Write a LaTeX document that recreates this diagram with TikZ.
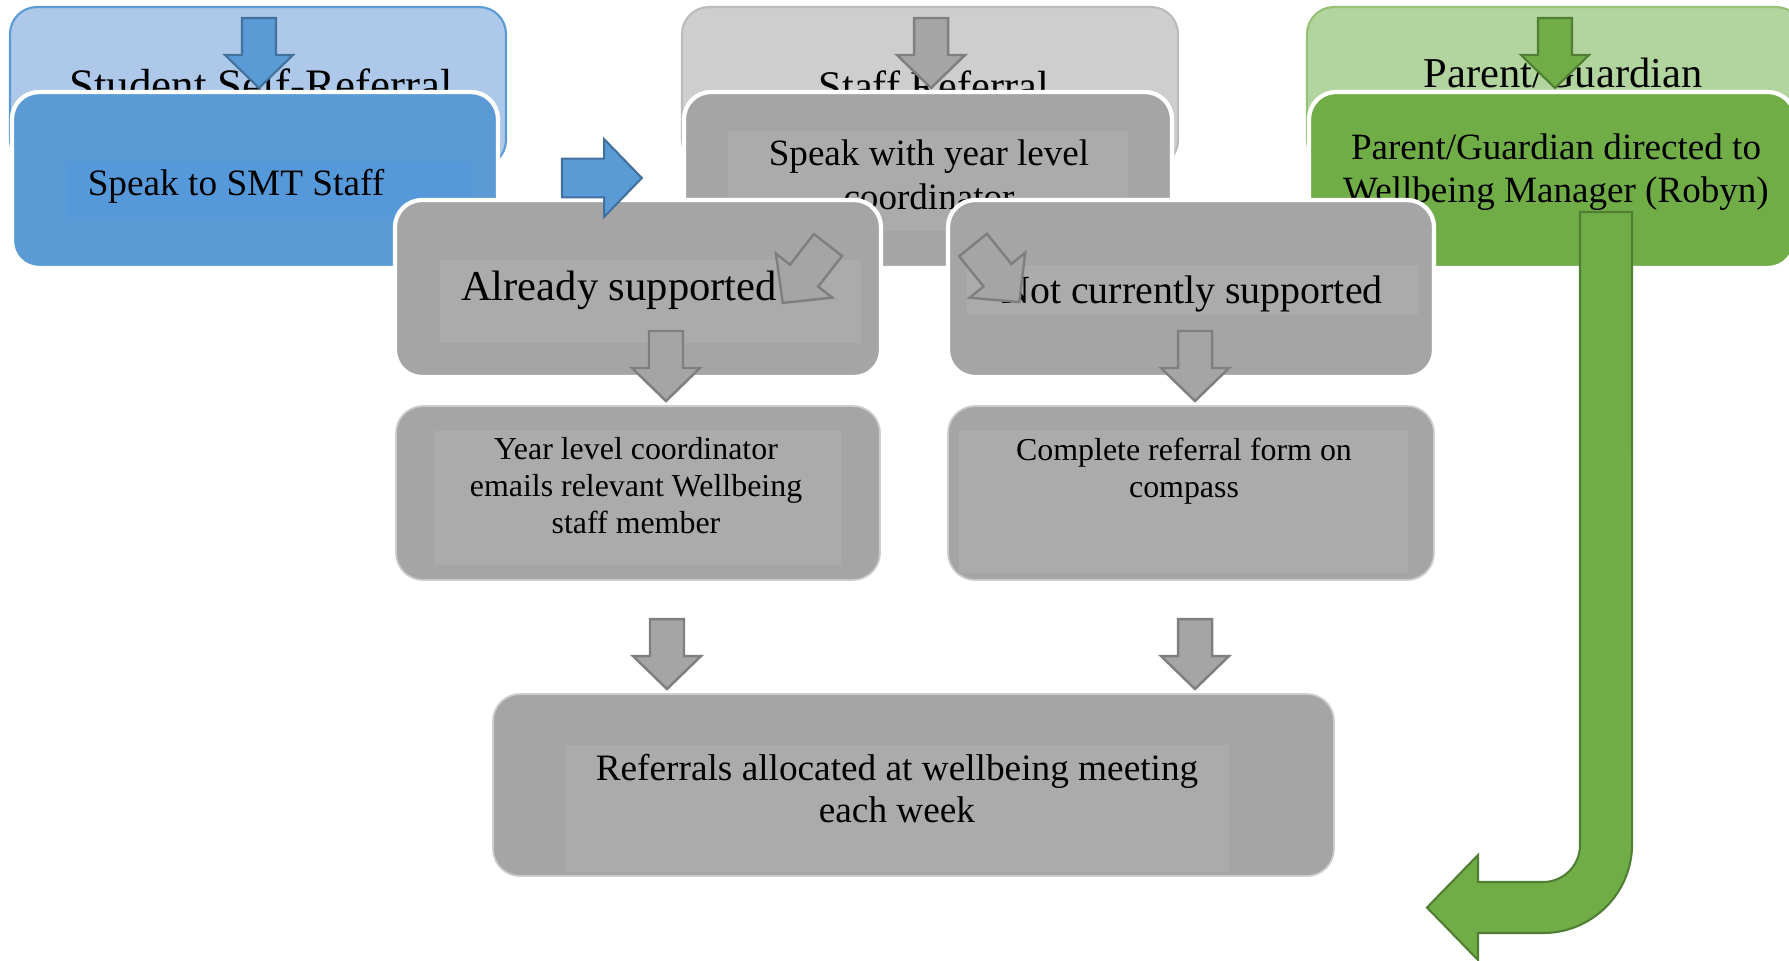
\documentclass[tikz,border=0pt]{standalone}
\usepackage{fontspec}
\setmainfont{Liberation Serif}
\usetikzlibrary{positioning}

\definecolor{azul}{HTML}{5B9BD5}
\definecolor{azulint}{HTML}{5699DA}
\definecolor{azulclaro}{HTML}{ADC8E9}
\definecolor{azulborde}{HTML}{41719C}
\definecolor{gris}{HTML}{A5A5A5}
\definecolor{grisint}{HTML}{ABABAB}
\definecolor{grisclaro}{HTML}{CECECE}
\definecolor{grisborde}{HTML}{7F7F7F}
\definecolor{verde}{HTML}{70AD47}
\definecolor{verdeclaro}{HTML}{B2D49F}
\definecolor{verdeborde}{HTML}{507E32}

\tikzset{
  headbox/.style={rounded corners=0.27cm, line width=0.6pt},
  stepbox/.style={rounded corners=0.27cm, draw=white, line width=1.2pt, fill=gris},
  lowbox/.style={rounded corners=0.27cm, draw=gris!55!white, line width=0.5pt, fill=gris},
  txt/.style={inner sep=0pt, anchor=base, text=black, align=center},
  bluearrow/.style={fill=azul, draw=azulborde, line width=0.6pt},
  grayarrow/.style={fill=gris, draw=grisborde, line width=0.7pt},
  greenarrow/.style={fill=verde, draw=verdeborde, line width=0.6pt}
}
\newcommand{\fs}[2]{\fontsize{#1}{#2}\selectfont}
% flecha de bloque hacia abajo: estilo, origen, giro, escala
\newcommand{\flecha}[4]{
    \draw[#1, shift={(#2)}, rotate=#3, scale=#4]
        (-17,0) -- (17,0) -- (17,37) -- (34,37) -- (0,70) -- (-34,37) -- (-17,37) -- cycle;
}

\begin{document}
\begin{tikzpicture}[x=0.01cm, y=-0.01cm]
    \useasboundingbox (0,0) rectangle (1789,960);
    \clip (0,0) rectangle (1789,960);

    % 1. Recuadros superiores
    \draw[headbox, fill=azulclaro, draw=azul] (10,7) rectangle (506,167);
    \draw[headbox, fill=grisclaro, draw=gris!75!white] (682,7) rectangle (1178,167);
    \draw[headbox, fill=verdeclaro, draw=verde!75!white] (1307,7) rectangle (1803,167);
    \node[txt, font=\fs{12.8}{14.7}] (ssr) at (261,100) {Student Self-Referral};
    \node[txt, font=\fs{12}{14}] (sr) at (934,100) {Staff Referral};
    \node[txt, font=\fs{12.1}{14}] (pg) at (1563,87) {Parent/Guardian};

    \flecha{bluearrow}{259,18}{0}{1}
    \flecha{grayarrow}{931,18}{0}{1}
    \flecha{greenarrow}{1555,18}{0}{1}

    % 2. Segunda fila (la base del texto es la de la ultima linea)
    \draw[stepbox, fill=azul] (12,92) rectangle (498,268);
    \fill[azulint] (66,162) rectangle (471,218);
    \node[txt, font=\fs{10.6}{12.2}] (smt) at (236,195) {Speak to SMT Staff};

    \draw[stepbox] (684,92) rectangle (1172,268);
    \fill[grisint] (728,131) rectangle (1128,231);
    \node[txt, font=\fs{10.55}{12.5}] (yearlevel) at (929,209) {Speak with year level\\coordinator};

    \draw[stepbox, fill=verde] (1309,92) rectangle (1795,268);
    \node[txt, font=\fs{10.55}{12.2}] (pgdir) at (1556,202) {Parent/Guardian directed to\\Wellbeing Manager (Robyn)};

    % 3. Tercera fila
    \draw[stepbox] (395,200) rectangle (881,377);
    \fill[grisint] (440,260) rectangle (861,343);
    \node[txt, font=\fs{12.1}{14}] (already) at (619,300) {Already supported};

    \draw[stepbox] (948,200) rectangle (1434,377);
    \fill[grisint] (967,265) rectangle (1418,315);
    \node[txt, font=\fs{11.35}{13}] (notcurr) at (1192,303) {Not currently supported};

    % flechas entre filas
    \flecha{bluearrow}{562,178}{90}{1.14}
    \flecha{grayarrow}{828,245}{-38}{1.05}
    \flecha{grayarrow}{973,245}{39}{1.05}
    \flecha{grayarrow}{666,331}{0}{1}
    \flecha{grayarrow}{1195,331}{0}{1}

    % 4. Cuarta fila
    \draw[lowbox] (396,406) rectangle (880,580);
    \fill[grisint] (434,431) rectangle (841,565);
    \node[txt, font=\fs{9.07}{10.5}] (ylcemail) at (636,533) {Year level coordinator\\emails relevant Wellbeing\\staff member};

    \draw[lowbox] (948,406) rectangle (1434,580);
    \fill[grisint] (959,431) rectangle (1408,573);
    \node[txt, font=\fs{9.07}{10.5}] (complete) at (1184,497) {Complete referral form on\\compass};

    \flecha{grayarrow}{667,619}{0}{1}
    \flecha{grayarrow}{1195,619}{0}{1}

    % 5. Reunion semanal
    \draw[lowbox] (493,694) rectangle (1334,876);
    \fill[grisint] (566,745) rectangle (1229,872);
    \node[txt, font=\fs{10.6}{11.95}] (referrals) at (897,822) {Referrals allocated at wellbeing meeting\\each week};

    % 6. Flecha curva verde
    \draw[greenarrow] (1580,212) -- (1580,845)
        arc[start angle=0, end angle=-90, radius=0.37cm]
        -- (1478,882) -- (1478,855) -- (1427,907.5) -- (1478,960) -- (1478,933) -- (1543,933)
        arc[start angle=-90, end angle=0, radius=0.89cm]
        -- (1632,212) -- cycle;

\end{tikzpicture}
\end{document}
